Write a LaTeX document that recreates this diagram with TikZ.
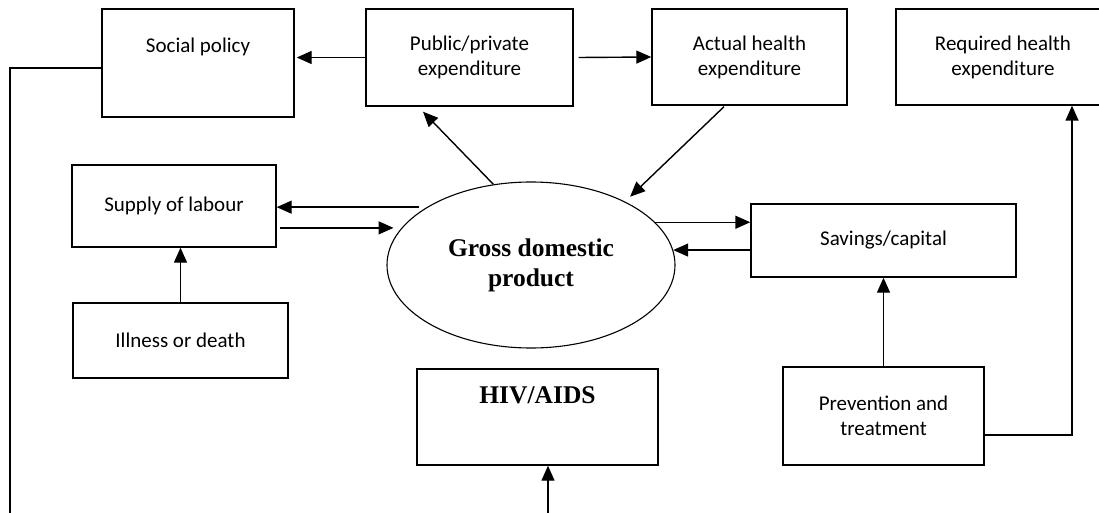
\documentclass[tikz,border=0pt]{standalone}
\usepackage{fontspec}
\setmainfont{Carlito}
\newfontfamily\gdpserif{Liberation Serif}
\usetikzlibrary{arrows.meta,positioning,calc,shapes.geometric}

\begin{document}
\begin{tikzpicture}[
  x=1pt, y=-1pt,
  font=\fontsize{21}{25}\selectfont,
  >={Triangle[length=15pt, width=13pt]},
  line width=1.4pt,
  block/.style={draw, rectangle, align=center, inner sep=2pt},
  oval/.style={draw, ellipse, line width=1.1pt, inner sep=0pt, minimum width=288pt, minimum height=166pt, align=center},
  boldserif/.style={font=\fontsize{25.5}{30}\selectfont\gdpserif\bfseries},
]
\useasboundingbox (0,0) rectangle (1099,513);
\clip (0,0) rectangle (1099,513);

% Top row: social policy <- public/private -> actual health, required health at right
\node[block, minimum width=192pt, minimum height=108pt, text height=15pt, text depth=35pt] (SP) at (198,63) {Social policy};
\node[block, minimum width=207pt, minimum height=97pt]  (PP) at (469.5,57.5) {Public/private\\expenditure};
\node[block, minimum width=195pt, minimum height=96pt]  (AH) at (749.5,57)   {Actual health\\expenditure};
\node[block, minimum width=214pt, minimum height=96pt]  (RH) at (1003,57)    {Required health\\expenditure};

% Middle: GDP with labour on the left and savings on the right
\node[oval, boldserif] (GDP) at (531,265) {Gross domestic\\product};
\node[block, minimum width=204pt, minimum height=82pt]  (SL) at (174,206)     {Supply of labour};
\node[block, minimum width=215pt, minimum height=75pt]  (IL) at (180.5,340.5) {Illness or death};
\node[block, minimum width=265pt, minimum height=73pt]  (SC) at (883.5,240.5) {Savings/capital};

% Bottom: HIV/AIDS and prevention
\node[block, boldserif, minimum width=241pt, minimum height=96pt, text height=17pt, text depth=45pt] (HIV) at (537.5,417) {HIV/AIDS};
\node[block, minimum width=201pt, minimum height=98pt]  (PT) at (883.5,416) {Prevention and\\treatment};

% Free ends leaving the picture
\coordinate (spOut) at (10,520);
\coordinate (hivIn) at (548,520);

% Wires along the top
\draw[->, shorten >=2pt] (PP.west) -- (PP.west -| SP.east);
\draw[->] ($(PP.east)+(5,0)$) -- (AH.west);
\draw[->] (GDP.115) -- ($(PP.south)+(-46.5,5)$);
\draw[->, shorten >=7pt] ($(AH.south)+(-25.5,1)$) -- (GDP.34);

% GDP <-> supply of labour, GDP <-> savings
\draw[->] ($(GDP.151)+(-8,0)$) -- (GDP.151 -| SL.east);
\draw[->] ($(SL.east |- GDP.164)+(3,0)$) -- ($(GDP.164)+(-8,0)$);
\draw[->] (GDP.19) -- (GDP.19 -| SC.west);
\draw[->] (SC.west |- GDP.6) -- (GDP.6);

% Vertical feeds
\draw[->] (IL.north) -- (IL.north |- SL.south);
\draw[->] (PT.north) -- (SC.south);
\draw[->] (hivIn) -- (hivIn |- HIV.south);
\draw[->] ($(PT.east)+(0,19)$) -| ($(RH.south)+(69,0)$);

% Social policy line running off the page
\draw ($(SP.west)+(0,5)$) -| (spOut);

\end{tikzpicture}
\end{document}
